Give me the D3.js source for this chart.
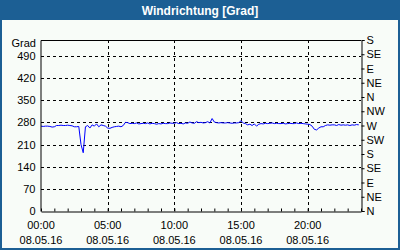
<!DOCTYPE html>
<html><head><meta charset="utf-8">
<script src="https://cdn.jsdelivr.net/npm/d3@7"></script>
<style>
html,body{margin:0;padding:0;background:#fff;}
svg{display:block;}
text{font-family:"Liberation Sans",Arial,sans-serif;}
</style></head>
<body>
<svg id="chart" width="400" height="250"></svg>
<script>
const title = "Windrichtung [Grad]";
const yLabel = "Grad";
const dateLabel = "08.05.16";
const leftTicks = [0, 70, 140, 210, 280, 350, 420, 490];
const rightTicks = [0, 45, 90, 135, 180, 225, 270, 315, 360, 405, 450, 495, 540];
const rightLabels = ["N","NE","E","SE","S","SW","W","NW","N","NE","E","SE","S"];
const xMajor = [0, 5, 10, 15, 20];
const xMajorLabels = ["00:00","05:00","10:00","15:00","20:00"];
// Wind direction, 10-minute values, 00:00 .. 23:50
const direction = [
  268,267,268,268,267,265,
  266,270,270,271,270,270,
  271,270,269,266,266,267,
  210,184,266,270,262,272,
  268,275,266,272,270,268,
  262,261,264,266,267,268,
  266,270,280,279,276,277,
  276,278,275,276,277,276,
  278,275,277,276,274,276,
  275,277,276,276,278,277,
  277,279,276,277,275,278,
  277,281,278,277,282,279,
  280,278,279,282,278,292,
  281,279,278,279,278,278,
  279,278,277,278,278,279,
  285,278,276,272,274,270,
  275,268,274,276,275,277,
  276,277,278,276,277,276,
  276,277,275,276,277,276,
  276,278,276,277,276,275,
  274,273,268,258,256,262,
  266,266,270,272,271,272,
  272,270,273,271,272,271,
  272,270,272,271,273,272
];
const hours = direction.map((d,i)=>i/6);

const svg = d3.select("#chart");
const W = 400, H = 250;
const L = 41, R = 361, T = 40, B = 211;

svg.append("rect").attr("x",0).attr("y",0).attr("width",W).attr("height",H).attr("fill","#1c5f94");
svg.append("rect").attr("x",2).attr("y",20).attr("width",W-4).attr("height",H-22).attr("fill","#f8fcf8");
svg.append("text").attr("x",W/2).attr("y",14.5).attr("text-anchor","middle")
  .attr("fill","#fff").attr("font-weight","bold").attr("font-size","12px").text(title);

const x = d3.scaleLinear().domain([0,24]).range([L,R]);
const y = d3.scaleLinear().domain([0,540]).range([B,T]);

// grid
const g = svg.append("g");
g.selectAll("line.hg").data(leftTicks.filter(d=>d>0)).join("line")
  .attr("x1",L).attr("x2",R).attr("y1",d=>Math.round(y(d))+0.5).attr("y2",d=>Math.round(y(d))+0.5)
  .attr("stroke","#000").attr("stroke-dasharray","3,3").attr("shape-rendering","crispEdges");
g.selectAll("line.vg").data(xMajor.filter(d=>d>0)).join("line")
  .attr("y1",T).attr("y2",B).attr("x1",d=>Math.round(x(d))+0.5).attr("x2",d=>Math.round(x(d))+0.5)
  .attr("stroke","#000").attr("stroke-dasharray","3,3").attr("shape-rendering","crispEdges");

// frame top
svg.append("line").attr("x1",L).attr("x2",R).attr("y1",T+0.5).attr("y2",T+0.5).attr("stroke","#000").attr("shape-rendering","crispEdges");

// data line
svg.append("path").datum(direction)
  .attr("fill","none").attr("stroke","#0000ff").attr("stroke-width",1)
  .attr("d", d3.line().x((d,i)=>x(hours[i])).y(d=>y(d)));

// left axis
const yAxisL = d3.axisLeft(y).tickValues(leftTicks).tickSize(0).tickPadding(5);
const gl = svg.append("g").attr("transform",`translate(${L-0.5},0)`).call(yAxisL);
gl.selectAll("text").attr("font-size","11px").attr("fill","#000").attr("font-family","Liberation Sans, Arial, sans-serif");
gl.select(".domain").attr("stroke","#000");
svg.append("text").attr("x",L-5).attr("y",T+7).attr("text-anchor","end").attr("font-size","11px").text(yLabel);

// right axis
const yAxisR = d3.axisRight(y).tickValues(rightTicks).tickSize(3).tickPadding(2)
  .tickFormat((d,i)=>rightLabels[i]);
const gr = svg.append("g").attr("transform",`translate(${R+0.5},0)`).call(yAxisR);
gr.selectAll("text").attr("font-size","11px").attr("fill","#000").attr("font-family","Liberation Sans, Arial, sans-serif");
gr.select(".domain").attr("stroke","#000");
gr.selectAll(".tick line").attr("stroke","#000");

// bottom axis: hourly inner ticks
const xAxis = d3.axisBottom(x).tickValues(d3.range(0,25,1)).tickSizeInner(-3).tickSizeOuter(0).tickFormat("");
const gb = svg.append("g").attr("transform",`translate(0,${B+0.5})`).call(xAxis);
gb.select(".domain").attr("stroke","#000");
gb.selectAll(".tick line").attr("stroke","#000");

// x labels
const xl = svg.append("g");
xl.selectAll("text.t").data(xMajor).join("text")
  .attr("x",d=>x(d)).attr("y",229).attr("text-anchor","middle").attr("font-size","11px")
  .text((d,i)=>xMajorLabels[i]);
xl.selectAll("text.d").data(xMajor).join("text")
  .attr("x",d=>x(d)).attr("y",244).attr("text-anchor","middle").attr("font-size","11px")
  .text(dateLabel);
</script>
</body></html>
